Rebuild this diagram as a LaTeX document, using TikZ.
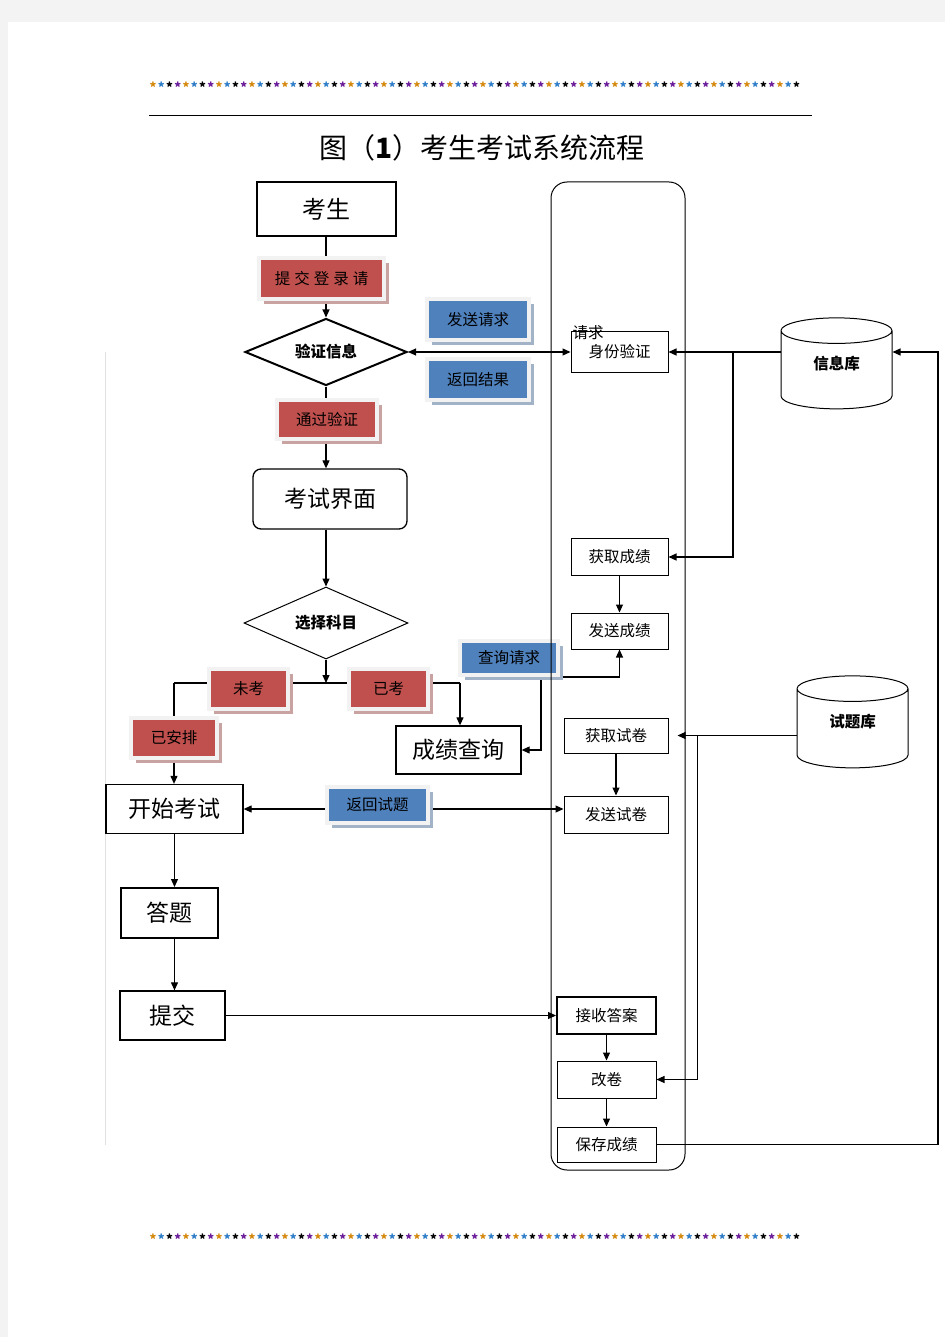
\documentclass[tikz,border=0pt]{standalone}
\usepackage{fontspec}
\setmainfont{Noto Sans CJK SC}
\usetikzlibrary{arrows.meta,shapes.geometric,shadows}
\definecolor{lblred}{HTML}{C0504D}
\definecolor{lblblue}{HTML}{4F81BD}
\definecolor{pagegray}{HTML}{F3F3F3}
\definecolor{starc0}{HTML}{D4870A}
\definecolor{starc1}{HTML}{2C7CC8}
\definecolor{starc2}{HTML}{000000}
\definecolor{starc3}{HTML}{6A1B9A}
\pgfdeclarelayer{page}
\pgfdeclarelayer{lines}
\pgfsetlayers{page,lines,main}

\begin{document}
\begin{tikzpicture}[x=1pt,y=-1pt,>={Triangle[length=8pt,width=7pt]},
	box/.style={draw, line width=1.3pt, inner sep=0pt, font=\fontsize{23}{23}\selectfont},
	thickbox/.style={box, line width=2pt},
	proc/.style={draw, line width=1pt, inner sep=0pt, font=\fontsize{15.5}{16}\selectfont},
	tag/.style={fill=#1, draw=black!5, line width=4pt, inner sep=0pt, font=\fontsize{15.5}{16}\selectfont,
		drop shadow={shadow xshift=5pt, shadow yshift=-5pt, fill=#1!55!gray!60, opacity=1}},
	check/.style={diamond, draw, inner sep=0pt, aspect=2.4, font=\bfseries\fontsize{15.5}{16}\selectfont},
	store/.style={cylinder, shape border rotate=90, draw, line width=1pt, aspect=0.55, inner sep=0pt, font=\bfseries\fontsize{15.5}{16}\selectfont},
	starmark/.style={inner sep=0pt, font=\bfseries\fontsize{13}{13}\selectfont}]
	\useasboundingbox (0,0) rectangle (945,1337);
	\begin{pgfonlayer}{page}
		\fill[pagegray] (0,0) rectangle (945,1337);
		\fill[white] (8,22) rectangle (945,1337);
	\end{pgfonlayer}

	% header and footer
	\foreach \i [evaluate=\i as \c using {int(mod(\i,4))}] in {0,...,78} {
		\node[starmark, text=starc\c] (star\i) at (153+\i*8.25,87) {*};
		\node[starmark, text=starc\c] (foot\i) at (153+\i*8.25,1239) {*};
	}
	\draw[line width=1pt] (149,116) -- (812,116);
	\node[font=\fontsize{28}{28}\selectfont] (title) at (482,148) {图（\textbf{1}）考生考试系统流程};
	\draw[black!12] (105.5,352) -- (105.5,1145);

	% left column
	\node[thickbox, minimum width=139pt, minimum height=54pt, font=\fontsize{24}{24}\selectfont] (kaosheng) at (326.5,209) {考生};
	\node[tag=lblred, minimum width=125pt, minimum height=41pt] (submitlbl) at (321.5,278.5) {提\hspace{4pt}交\hspace{4pt}登\hspace{4pt}录\hspace{4pt}请};
	\node[check, line width=2pt, minimum width=162pt, minimum height=67pt] (verify) at (326,352) {验证信息};
	\node[tag=lblblue, minimum width=102pt, minimum height=41pt] (sendreq) at (478,319.5) {发送请求};
	\node[tag=lblblue, minimum width=102pt, minimum height=41pt] (retres) at (478,379.5) {返回结果};
	\node[tag=lblred, minimum width=100pt, minimum height=39pt] (passlbl) at (327,419.5) {通过验证};
	\node[box, rounded corners=8pt, minimum width=154pt, minimum height=60pt] (examui) at (330,499) {考试界面};
	\node[check, line width=1pt, minimum width=164pt, minimum height=72pt] (choose) at (326,623) {选择科目};
	\node[tag=lblred, minimum width=79pt, minimum height=40pt] (weikao) at (248.5,689) {未考};
	\node[tag=lblred, minimum width=79pt, minimum height=40pt] (yikao) at (388.5,689) {已考};
	\node[tag=lblred, minimum width=86pt, minimum height=40pt] (yianpai) at (174,738) {已安排};
	\node[box, minimum width=125pt, minimum height=48pt] (grade) at (458.5,750) {成绩查询};
	\node[tag=lblblue, minimum width=98pt, minimum height=34pt] (query) at (509,658) {查询请求};
	\node[box, minimum width=137pt, minimum height=49pt] (start) at (174.5,809) {开始考试};
	\node[tag=lblblue, minimum width=101pt, minimum height=36pt] (retq) at (377.5,805) {返回试题};
	\node[thickbox, minimum width=97pt, minimum height=50pt] (answer) at (169.5,913) {答题};
	\node[box, minimum width=105pt, minimum height=49pt] (submit) at (172.5,1015.5) {提交};

	% server lane
	\node[draw, line width=1pt, rounded corners=16pt, minimum width=134pt, minimum height=988pt] (lane) at (618,676) {};
	\node[proc, minimum width=97pt, minimum height=41pt] (idv) at (619.5,352) {身份验证};
	\node[inner sep=0pt, font=\fontsize{15.5}{16}\selectfont] (reqtxt) at (588,333) {请求};
	\node[proc, minimum width=97pt, minimum height=37pt] (getscore) at (619.5,557) {获取成绩};
	\node[proc, minimum width=97pt, minimum height=36pt] (sendscore) at (619.5,631) {发送成绩};
	\node[proc, minimum width=104pt, minimum height=35pt] (getpaper) at (616,735.5) {获取试卷};
	\node[proc, minimum width=104pt, minimum height=37pt] (sendpaper) at (616,814.5) {发送试卷};
	\node[proc, line width=2pt, minimum width=99pt, minimum height=37pt] (recv) at (606.5,1015.5) {接收答案};
	\node[proc, minimum width=99pt, minimum height=37pt] (mark) at (606.5,1079.5) {改卷};
	\node[proc, minimum width=99pt, minimum height=35pt] (save) at (606.5,1144.5) {保存成绩};

	% stores
	\node[store, minimum width=111pt, minimum height=91pt] (infodb) at (836.5,370) {\raisebox{15pt}{信息库}};
	\node[store, minimum width=111pt, minimum height=92pt] (qdb) at (852.5,728.5) {\raisebox{15pt}{试题库}};

	\coordinate (jn) at (326,683);
	\coordinate (jl) at (174,683);
	\coordinate (jr) at (460,683);
	\coordinate (qj) at (541,677);
	\coordinate (ib) at (733,352);
	\coordinate (rb) at (938,1144.5);
	\coordinate (rt) at (938,352);
	\coordinate (qb) at (697.5,735.5);

	\begin{pgfonlayer}{lines}
	\begin{scope}[line width=1.1pt]
		\draw[->] (kaosheng.south -| verify) -- (verify);
		\draw[<->] (verify) -- (idv);
		\draw[->] (verify) -- (verify |- examui.north);
		\draw[->] (choose |- examui.south) -- (choose);
		\draw[->] (choose) -- (jn);
		\draw (jl) -- (jr);
		\draw[->] (jl) -- (jl |- start.north);
		\draw[->] (jr) -- (jr |- grade.north);
		\draw[->] (qj) |- (grade);
		\draw[->] (qj) -| (sendscore);
		\draw[<->] (start) -- (start -| sendpaper.west);
		\draw[->] (start) -- (start |- answer.north);
		\draw[->] (start |- answer.south) -- (start |- submit.north);
		\draw[->] (submit) -- (submit -| recv.west);
		\draw[->] (recv) -- (mark);
		\draw[->] (mark) -- (save);
		\draw[->] (getscore) -- (sendscore);
		\draw[->] (getpaper) -- (sendpaper);
		\draw[->] (infodb.180 |- idv) -- (idv);
		\draw[->] (ib) |- (getscore);
		\draw[->] (save) -- (rb) -- (rt) -- (infodb.0 |- rt);
		\draw[->, shorten >=9pt] (qdb.180 |- getpaper) -- (getpaper);
		\draw[->] (qb) |- (mark);
	\end{scope}
	\end{pgfonlayer}
\end{tikzpicture}
\end{document}
